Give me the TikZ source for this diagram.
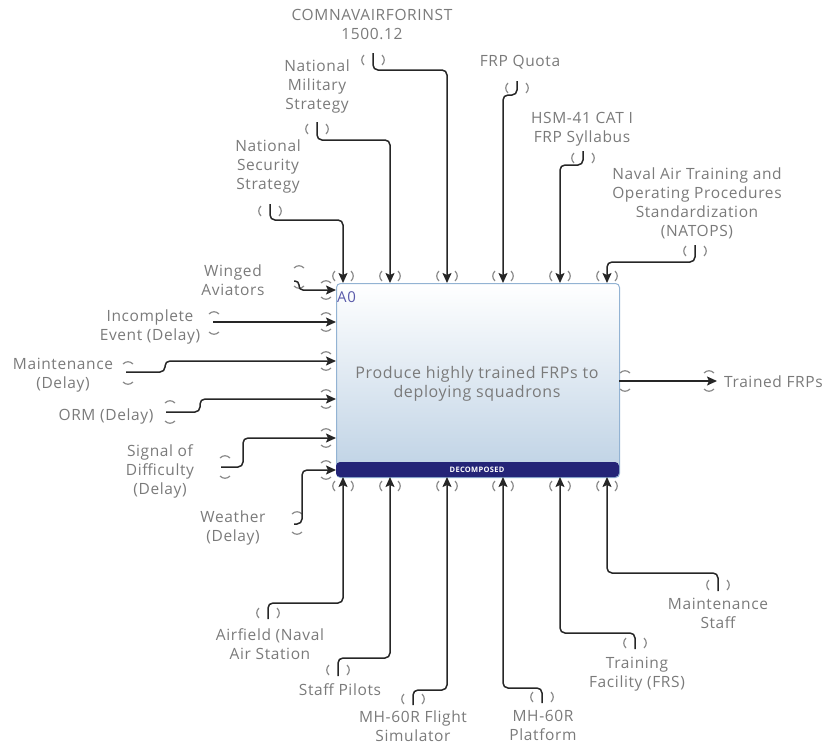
\documentclass[tikz,border=0pt]{standalone}
\usepackage{fontspec}
\setmainfont{Open Sans}[LetterSpace=4]
\usetikzlibrary{arrows.meta}
\definecolor{txt}{HTML}{7A7A7A}
\definecolor{ln}{HTML}{262626}
\definecolor{brk}{HTML}{8A8A8A}
\definecolor{band}{HTML}{242477}
\definecolor{bord}{HTML}{93B3D3}
\definecolor{fillb}{HTML}{BDD1E4}
\definecolor{aoc}{HTML}{5A5AAA}
\newcommand\portV[3]{%
 \draw[brkline] ({#1-#3+2},{#2-5}) .. controls ({#1-#3-1},{#2-2}) and ({#1-#3-1},{#2+2}) .. ({#1-#3+2},{#2+5});
 \draw[brkline] ({#1+#3-2},{#2-5}) .. controls ({#1+#3+1},{#2-2}) and ({#1+#3+1},{#2+2}) .. ({#1+#3-2},{#2+5});}
\newcommand\portH[3]{%
 \draw[brkline] ({#1-5},{#2-#3+2}) .. controls ({#1-2},{#2-#3-1}) and ({#1+2},{#2-#3-1}) .. ({#1+5},{#2-#3+2});
 \draw[brkline] ({#1-5},{#2+#3-2}) .. controls ({#1-2},{#2+#3+1}) and ({#1+2},{#2+#3+1}) .. ({#1+5},{#2+#3-2});}
\tikzset{
 lbl/.style={text=txt, align=center, inner sep=0pt, font=\fontsize{15.5}{19}\selectfont},
 conn/.style={draw=ln, line width=1.5pt, rounded corners=5pt, -{Stealth[length=10pt,width=9pt,inset=2pt]}},
 brkline/.style={draw=brk, line width=1.2pt},
}
\begin{document}
\begin{tikzpicture}[x=1pt,y=-1pt]
\useasboundingbox (0,0) rectangle (825,744);
% main box
\node[draw=bord, line width=1pt, rounded corners=4pt, top color=white, bottom color=fillb, minimum width=283pt, minimum height=194pt, anchor=north west, inner sep=0pt] (A0) at (336,283) {};
\fill[band, rounded corners=4pt] (336,462) rectangle (619,477);
\node[text=white, font=\fontsize{7.5}{8}\selectfont\bfseries, inner sep=0pt] (dec) at (477,469.5) {DECOMPOSED};
\node[text=aoc, font=\fontsize{15}{16}\selectfont, anchor=west, inner sep=0pt] (a0lbl) at (337,297) {A0};
\node[lbl, font=\fontsize{16}{18.5}\selectfont] (title) at (477,384) {Produce highly trained FRPs to\\deploying squadrons};
% ports
\foreach \i/\x in {1/343,2/390,3/447,4/503,5/560,6/607}{
 \coordinate (t\i) at (\x,283);
 \coordinate (b\i) at (\x,477);
 \portV{\x}{276}{10}
 \portV{\x}{486}{10}
}
\foreach \i/\y in {1/290,2/322,3/361,4/399,5/438,6/470}{
 \coordinate (l\i) at (336,\y);
 \portH{326}{\y}{9}
}
\coordinate (o1) at (619,381);
% labels
\node[lbl] (comnav) at (372,24) {COMNAVAIRFORINST\\1500.12};
\node[lbl] (nms) at (317,86) {National\\Military\\Strategy};
\node[lbl] (nss) at (268,166) {National\\Security\\Strategy};
\node[lbl] (frpq) at (520,62) {FRP Quota};
\node[lbl] (hsm) at (582,129) {HSM-41 CAT I\\FRP Syllabus};
\node[lbl] (natops) at (697,203) {Naval Air Training and\\Operating Procedures\\Standardization\\(NATOPS)};
\node[lbl] (winged) at (233,280) {Winged\\Aviators};
\node[lbl] (incomp) at (150,327) {Incomplete\\Event (Delay)};
\node[lbl] (maint) at (63,375) {Maintenance\\(Delay)};
\node[lbl] (orm) at (106,416) {ORM (Delay)};
\node[lbl] (signal) at (160,471) {Signal of\\Difficulty\\(Delay)};
\node[lbl] (weather) at (233,528) {Weather\\(Delay)};
\node[lbl] (airfield) at (270,644) {Airfield (Naval\\Air Station};
\node[lbl] (staff) at (340,690) {Staff Pilots};
\node[lbl] (mhsim) at (413,726) {MH-60R Flight\\Simulator};
\node[lbl] (mhplat) at (543,725) {MH-60R\\Platform};
\node[lbl] (train) at (637,674) {Training\\Facility (FRS)};
\node[lbl] (mstaff) at (718,613) {Maintenance\\Staff};
\node[lbl, anchor=west] (trained) at (724,382) {Trained FRPs};
% stubs
\coordinate (s-comnav) at (373,53); \portV{373}{60}{11}
\coordinate (s-nms) at (317,122); \portV{317}{129}{11}
\coordinate (s-nss) at (270,204); \portV{270}{211}{11}
\coordinate (s-frpq) at (517,81); \portV{517}{88}{11}
\coordinate (s-hsm) at (583,151); \portV{583}{158}{11}
\coordinate (s-natops) at (695,245); \portV{695}{251}{11}
\coordinate (s-winged) at (294,281); \portH{299}{277}{11}
\coordinate (s-incomp) at (213,322); \portH{214}{323}{11}
\coordinate (s-maint) at (126,372); \portH{128}{373}{11}
\coordinate (s-orm) at (166,412); \portH{170}{412}{11}
\coordinate (s-signal) at (221,467); \portH{225}{467}{11}
\coordinate (s-weather) at (294,524); \portH{297}{523}{11}
\coordinate (s-airfield) at (268,619); \portV{268}{613}{11}
\coordinate (s-staff) at (338,676); \portV{338}{670}{11}
\coordinate (s-mhsim) at (413,705); \portV{413}{699}{11}
\coordinate (s-mhplat) at (542,703); \portV{542}{697}{11}
\coordinate (s-train) at (635,649); \portV{635}{643}{11}
\coordinate (s-mstaff) at (718,591); \portV{718}{585}{11}
\coordinate (e-trained) at (717,381);
\portH{625}{381}{10}
\portH{709}{381}{10}
% connectors
\draw[conn] (s-comnav) -- ++(0,17) -| (t3);
\draw[conn] (s-nms) -- ++(0,18) -| (t2);
\draw[conn] (s-nss) -- ++(0,16) -| (t1);
\draw[conn] (s-frpq) -- ++(0,14) -| (t4);
\draw[conn] (s-hsm) -- ++(0,14) -| (t5);
\draw[conn] (s-natops) -- ++(0,17) -| (t6);
\draw[conn, rounded corners=4pt] (s-winged) -- ++(5,0) |- (l1);
\draw[conn] (s-incomp) -- (l2);
\draw[conn] (s-maint) -- ++(39,0) |- (l3);
\draw[conn] (s-orm) -- ++(34,0) |- (l4);
\draw[conn] (s-signal) -- ++(22,0) |- (l5);
\draw[conn] (s-weather) -- ++(8,0) |- (l6);
\draw[conn] (s-airfield) -- ++(0,-16) -| (b1);
\draw[conn] (s-staff) -- ++(0,-18) -| (b2);
\draw[conn] (s-mhsim) -- ++(0,-15) -| (b3);
\draw[conn] (s-mhplat) -- ++(0,-15) -| (b4);
\draw[conn] (s-train) -- ++(0,-16) -| (b5);
\draw[conn] (s-mstaff) -- ++(0,-18) -| (b6);
\draw[conn] (o1) -- (e-trained);
\end{tikzpicture}
\end{document}
